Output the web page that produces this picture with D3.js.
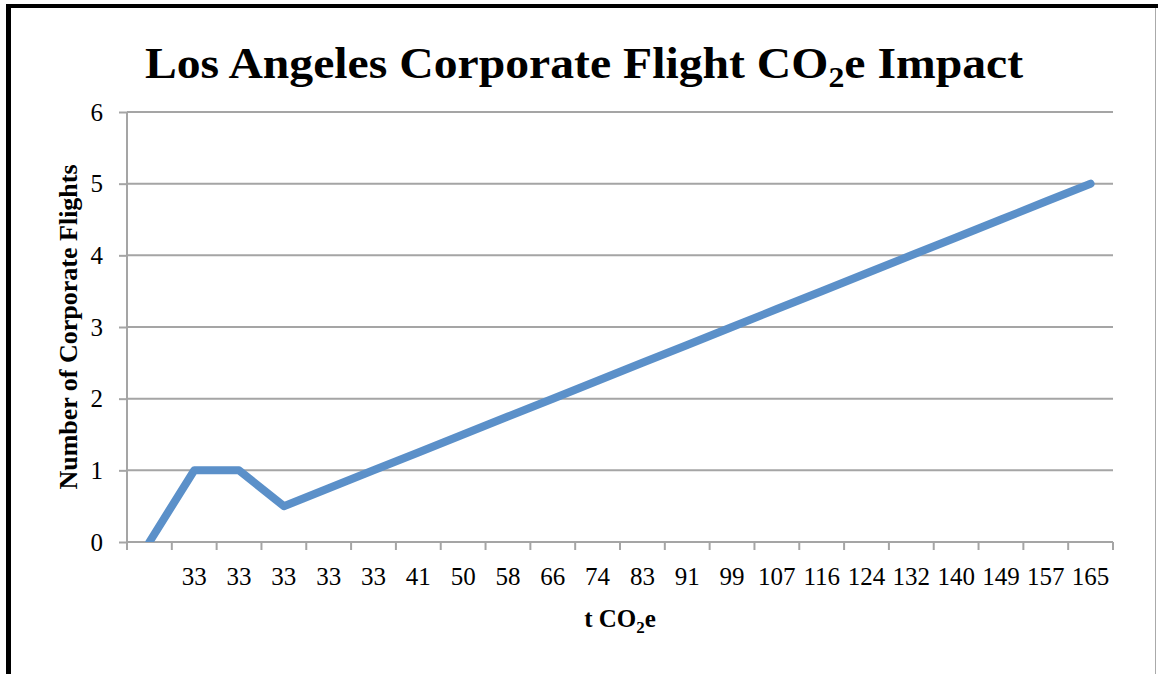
<!DOCTYPE html>
<html><head><meta charset="utf-8">
<script src="https://cdn.jsdelivr.net/npm/d3@7"></script>
<style>body{margin:0;background:#fff}svg{display:block}text{font-family:"Liberation Serif","Times New Roman",serif}</style>
</head><body><svg id="c" width="1158" height="674"></svg>
<script>
const categories = ["", "33", "33", "33", "33", "33", "41", "50", "58", "66", "74", "83", "91", "99", "107", "116", "124", "132", "140", "149", "157", "165"];
const flights = [0, 1, 1, 0.5, 0.75, 1, 1.25, 1.5, 1.75, 2, 2.25, 2.5, 2.75, 3, 3.25, 3.5, 3.75, 4, 4.25, 4.5, 4.75, 5];
const yTicks = [0, 1, 2, 3, 4, 5, 6];

const svg = d3.select("#c");
const L = 127, R = 1113, T = 112, B = 542;
const grey = "#a5a5a5";

// frame
svg.append("line").attr("x1", 8.5).attr("x2", 8.5).attr("y1", 4).attr("y2", 674).attr("stroke", "#000").attr("stroke-width", 5);
svg.append("line").attr("x1", 6).attr("x2", 1158).attr("y1", 6).attr("y2", 6).attr("stroke", "#000").attr("stroke-width", 4);
svg.append("line").attr("x1", 1155.5).attr("x2", 1155.5).attr("y1", 8).attr("y2", 674).attr("stroke", "#aaa").attr("stroke-width", 1);

const x = d3.scaleBand().domain(d3.range(categories.length)).range([L, R]);
const y = d3.scaleLinear().domain([0, 6]).range([B, T]);

// gridlines
svg.append("g").selectAll("line").data(yTicks.filter(d => d > 0)).join("line")
  .attr("x1", L).attr("x2", R).attr("y1", d => y(d)).attr("y2", d => y(d))
  .attr("stroke", grey).attr("stroke-width", 2);

// y axis
const ya = svg.append("g").attr("transform", `translate(${L},0)`)
  .call(d3.axisLeft(y).tickValues(yTicks).tickSize(8).tickPadding(16).tickFormat(d3.format("d")));
ya.select(".domain").attr("stroke", grey).attr("stroke-width", 2).attr("d", `M0,${B}V${T}`);
ya.selectAll(".tick line").attr("stroke", grey).attr("stroke-width", 2);
ya.selectAll("text").attr("font-size", 25).attr("fill", "#000").attr("font-family", "Liberation Serif");

// x axis
const xa = svg.append("g").attr("transform", `translate(0,${B})`)
  .call(d3.axisBottom(x).tickFormat(i => categories[i]).tickSize(0).tickPadding(25));
xa.select(".domain").attr("stroke", grey).attr("stroke-width", 2).attr("d", `M${L},0H${R}`);
xa.selectAll("text").attr("font-size", 25).attr("fill", "#000").attr("font-family", "Liberation Serif");
xa.selectAll(".tick line").remove();
svg.append("g").selectAll("line").data(d3.range(categories.length + 1)).join("line")
  .attr("x1", i => L + i * x.step()).attr("x2", i => L + i * x.step())
  .attr("y1", B).attr("y2", B + 8).attr("stroke", grey).attr("stroke-width", 2);

// clip
svg.append("clipPath").attr("id", "pc").append("rect").attr("x", L).attr("y", T - 10).attr("width", R - L + 10).attr("height", B - T + 10);

const line = d3.line().x((d, i) => x(i) + x.bandwidth() / 2).y(d => y(d));
svg.append("path").datum(flights).attr("d", line).attr("fill", "none")
  .attr("stroke", "#5b90c9").attr("stroke-width", 8).attr("stroke-linejoin", "round").attr("stroke-linecap", "round")
  .attr("clip-path", "url(#pc)");

// title
const t = svg.append("text").attr("transform", "translate(584,78) scale(1.06,1)").attr("text-anchor", "middle")
  .attr("font-size", 45).attr("font-weight", "bold");
t.append("tspan").text("Los Angeles Corporate Flight CO");
t.append("tspan").text("2").attr("font-size", 30).attr("dy", 9);
t.append("tspan").text("e Impact").attr("dy", -9);

// x title
const xt = svg.append("text").attr("x", 620).attr("y", 627).attr("text-anchor", "middle")
  .attr("font-size", 25).attr("font-weight", "bold");
xt.append("tspan").text("t CO");
xt.append("tspan").text("2").attr("font-size", 17).attr("dy", 6);
xt.append("tspan").text("e").attr("dy", -6);

// y title
svg.append("text").attr("transform", "translate(77,327) rotate(-90)").attr("text-anchor", "middle")
  .attr("font-size", 26).attr("font-weight", "bold").text("Number of Corporate Flights");
</script></body></html>
